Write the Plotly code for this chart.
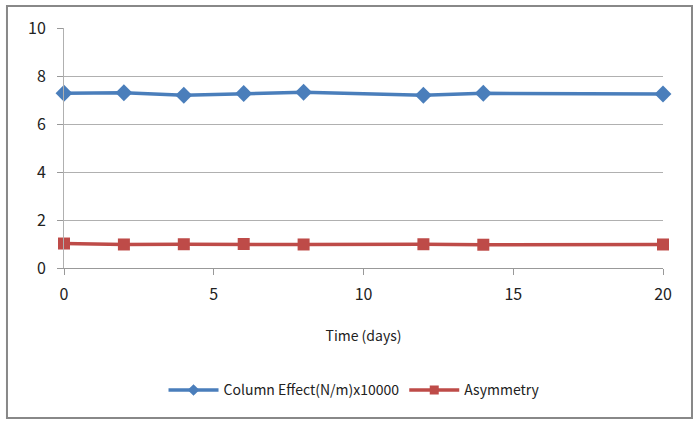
import plotly.graph_objects as go

days = [0, 2, 4, 6, 8, 12, 14, 20]
column_effect = [7.28, 7.30, 7.20, 7.27, 7.32, 7.20, 7.28, 7.25]
asymmetry = [1.02, 0.98, 0.99, 1.00, 0.98, 0.99, 0.97, 0.98]
x_ticks = [0, 5, 10, 15, 20]
y_ticks = [0, 2, 4, 6, 8, 10]

FONT = "Noto Sans CJK KR"
BLUE = "#4a7ebb"
RED = "#be4b48"

fig = go.Figure()
fig.add_trace(go.Scatter(
    x=days, y=column_effect, name="Column Effect(N/m)x10000",
    mode="lines+markers", showlegend=False,
    line=dict(color=BLUE, width=3.5),
    marker=dict(symbol="diamond", size=13, color=BLUE),
))
fig.add_trace(go.Scatter(
    x=days, y=asymmetry, name="Asymmetry",
    mode="lines+markers", showlegend=False,
    line=dict(color=RED, width=3.5),
    marker=dict(symbol="square", size=12, color=RED),
))
# legend entries with smaller symbols
fig.add_trace(go.Scatter(
    x=[None], y=[None], name="Column Effect(N/m)x10000",
    mode="lines+markers",
    line=dict(color=BLUE, width=3.5),
    marker=dict(symbol="diamond", size=9, color=BLUE),
))
fig.add_trace(go.Scatter(
    x=[None], y=[None], name="Asymmetry",
    mode="lines+markers",
    line=dict(color=RED, width=3.5),
    marker=dict(symbol="square", size=9, color=RED),
))

fig.update_layout(
    width=699, height=424,
    margin=dict(l=64, r=36, t=28, b=156, autoexpand=False),
    paper_bgcolor="white", plot_bgcolor="white",
    font=dict(family=FONT, size=16, color="#222"),
    showlegend=True,
    legend=dict(orientation="h", x=0.485, xanchor="center", y=-0.51, yanchor="middle",
                font=dict(size=14), itemwidth=50),
    xaxis=dict(
        range=[0, 20], tickvals=x_ticks, showgrid=False,
        showline=True, linecolor="#999", linewidth=1,
        ticks="outside", ticklen=6, tickcolor="#999",
        title=dict(text="Time (days)", font=dict(size=14), standoff=26),
        zeroline=False, ticklabelstandoff=6, automargin=False,
    ),
    yaxis=dict(
        range=[0, 10], tickvals=y_ticks, showgrid=True, gridcolor="#b0b0b0", gridwidth=1,
        showline=True, linecolor="#b0b0b0", linewidth=1,
        ticks="outside", ticklen=6, tickcolor="#999",
        zeroline=False, ticklabelstandoff=8, automargin=False,
    ),
    shapes=[dict(type="rect", xref="paper", yref="paper",
                 x0=-0.0952, x1=1.0484, y0=-0.625, y1=1.0917,
                 line=dict(color="#888", width=2), layer="below")],
)
fig.update_traces(cliponaxis=False)

fig.write_html("out.html", config={"displayModeBar": False},
               post_script="document.body.style.margin='0';")
